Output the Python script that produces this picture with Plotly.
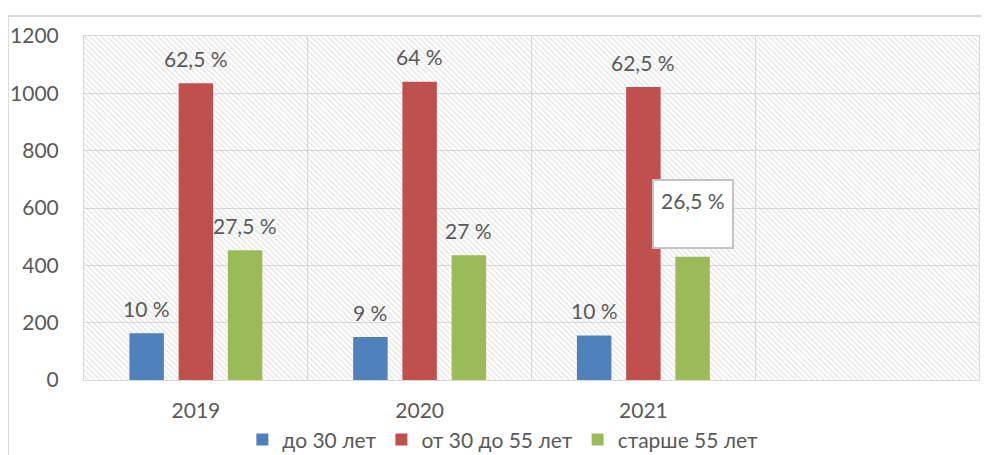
import plotly.graph_objects as go

# ---- data ----
years = ["2019", "2020", "2021"]
axis_categories = ["2019", "2020", "2021", " "]
series_names = ["до 30 лет", "от 30 до 55 лет", "старше 55 лет"]
under_30 = [163, 150, 155]
from_30_to_55 = [1035, 1040, 1022]
over_55 = [453, 435, 430]
labels_under_30 = ["10 %", "9 %", "10 %"]
labels_30_55 = ["62,5 %", "64 %", "62,5 %"]
labels_over_55 = ["27,5 %", "27 %", "26,5 %"]
y_ticks = [0, 200, 400, 600, 800, 1000, 1200]

colors = ["#4F81BD", "#C0504D", "#9BBB59"]
TEXT = "#595959"
GRID = "#d9d9d9"
FONT = "Lato"
FS = 21
BARGAP = 0.34
GROUPGAP = 0.30

fig = go.Figure()

# hatched background of the plot area (decoration, on hidden base axes)
fig.add_trace(go.Bar(
    x=[0.5], y=[1], width=[1], xaxis="x", yaxis="y",
    marker=dict(color="rgba(0,0,0,0)", line=dict(width=0),
                pattern=dict(shape="\\", fgcolor="#c4c4c4", bgcolor="rgba(0,0,0,0)",
                             size=4, solidity=0.3)),
    showlegend=False, hoverinfo="skip",
))

series = [under_30, from_30_to_55, over_55]
labels = [labels_under_30, labels_30_55, labels_over_55]
for name, vals, col in zip(series_names, series, colors):
    fig.add_trace(go.Bar(
        x=years, y=vals, name=name, xaxis="x2", yaxis="y2",
        marker=dict(color=col, line=dict(width=0)),
    ))

# data labels
slot = (1 - BARGAP) / 3
annotations = []
for s, (vals, labs) in enumerate(zip(series, labels)):
    for i, (v, t) in enumerate(zip(vals, labs)):
        xpos = i + (s - 1) * slot
        if s == 2 and i == 2:
            annotations.append(dict(
                x=xpos, y=v, xref="x2", yref="y2", text=t + "<br> ",
                showarrow=False, yanchor="bottom", yshift=8,
                font=dict(family=FONT, size=FS, color=TEXT),
                bgcolor="white", bordercolor="#c3c3c3", borderwidth=2, borderpad=7,
                align="center",
            ))
        else:
            annotations.append(dict(
                x=xpos, y=v, xref="x2", yref="y2", text=t,
                showarrow=False, yanchor="middle", yshift=25,
                font=dict(family=FONT, size=FS, color=TEXT),
            ))

fig.update_layout(
    width=982, height=447,
    margin=dict(l=76, r=11, t=28, b=75, autoexpand=False),
    paper_bgcolor="white", plot_bgcolor="white",
    barmode="group", bargap=BARGAP, bargroupgap=GROUPGAP,
    font=dict(family=FONT, size=FS, color=TEXT),
    xaxis=dict(domain=[0, 1], range=[0, 1], visible=False, fixedrange=True),
    yaxis=dict(domain=[0, 1], range=[0, 1], visible=False, fixedrange=True),
    xaxis2=dict(
        overlaying="x", anchor="y2", type="category",
        categoryorder="array", categoryarray=axis_categories,
        range=[-0.5, 3.5], tickson="boundaries", automargin=False,
        showgrid=True, gridcolor=GRID, gridwidth=1,
        showline=True, linecolor=GRID, linewidth=1, mirror=True,
        ticks="", ticklabelstandoff=12,
        tickfont=dict(family=FONT, size=FS, color=TEXT),
    ),
    yaxis2=dict(
        overlaying="y", anchor="x2", side="left",
        range=[0, 1200], tickvals=y_ticks, automargin=False,
        showgrid=True, gridcolor=GRID, gridwidth=1,
        showline=True, linecolor=GRID, linewidth=1, mirror=True,
        zeroline=False, ticks="", ticklabelstandoff=20,
        tickfont=dict(family=FONT, size=FS, color=TEXT),
    ),
    legend=dict(
        orientation="h", x=0.468, xanchor="center", y=-0.174, yanchor="middle",
        font=dict(family=FONT, size=FS, color=TEXT),
        bgcolor="rgba(0,0,0,0)", itemclick=False, itemdoubleclick=False,
        tracegroupgap=0, itemwidth=30,
    ),
    annotations=annotations,
    hovermode=False,
    shapes=[
        dict(type="line", xref="paper", yref="paper",
             x0=-0.085, x1=1.2, y0=1.058, y1=1.058,
             line=dict(color=GRID, width=2)),
        dict(type="line", xref="paper", yref="paper",
             x0=-0.085, x1=-0.085, y0=1.058, y1=-0.4,
             line=dict(color=GRID, width=2)),
    ],
)

fig.write_html("out.html")
